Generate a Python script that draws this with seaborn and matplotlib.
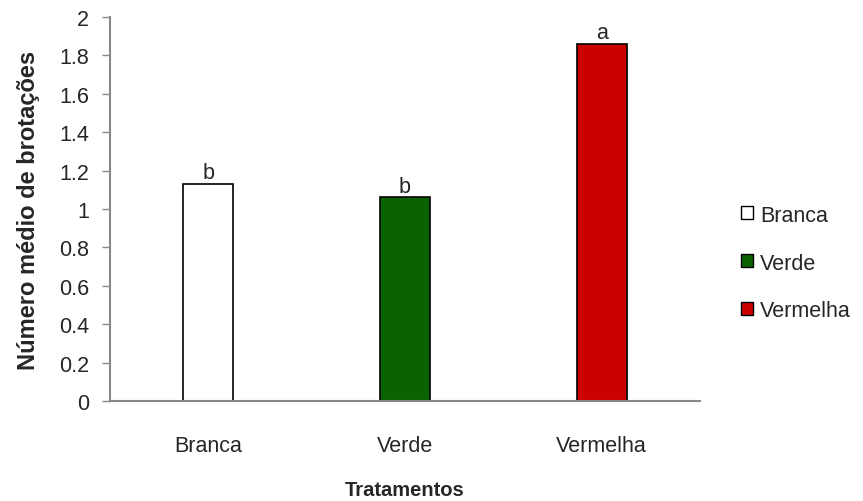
import seaborn as sns
import matplotlib.pyplot as plt
import pandas as pd

sns.set_theme(style="white")
plt.rcParams['font.family'] = ['Liberation Sans', 'DejaVu Sans']

# data
tratamentos = ["Branca", "Verde", "Vermelha"]
brotacoes = [1.13, 1.06, 1.86]
letras = ["b", "b", "a"]
cores = ["#FFFFFF", "#0A6302", "#CC0000"]

df = pd.DataFrame({"Tratamento": tratamentos, "Brotacoes": brotacoes})

fig = plt.figure(figsize=(8.63, 5.02), dpi=100)
ax = fig.add_axes([110 / 863, 1 - 402 / 502, 590 / 863, 384 / 502])

sns.barplot(data=df, x="Tratamento", y="Brotacoes", hue="Tratamento",
            palette=cores, dodge=False, width=0.255, edgecolor="black",
            linewidth=1.2, saturation=1, legend=False, ax=ax)

for i, (v, l) in enumerate(zip(brotacoes, letras)):
    ax.text(i, v + 0.005, l, ha="center", va="bottom", fontsize=15.5)

ax.set_ylim(0, 2)
ax.set_xlim(-0.5, 2.5)
ax.set_yticks([i / 5 for i in range(11)])
ax.set_yticklabels(["0", "0.2", "0.4", "0.6", "0.8", "1", "1.2", "1.4", "1.6", "1.8", "2"])
ax.tick_params(axis="y", left=True, length=6, width=1, color="#888888",
               labelsize=15.5, pad=9)
ax.tick_params(axis="x", bottom=False, labelsize=15.5, pad=18.5)
for s in ["top", "right"]:
    ax.spines[s].set_visible(False)
for s in ["left", "bottom"]:
    ax.spines[s].set_color("#888888")
    ax.spines[s].set_linewidth(1.5)

ax.set_xlabel("Tratamentos", fontsize=14.5, fontweight="bold", labelpad=17)
ax.set_ylabel("Número médio de brotações", fontsize=17, fontweight="bold", labelpad=14)

handles = [plt.Rectangle((0, 0), 1, 1, facecolor=c, edgecolor="black", linewidth=1)
           for c in cores]
fig.legend(handles, tratamentos, loc="center left", bbox_to_anchor=(741 / 863, 1 - 264 / 502),
           frameon=False, fontsize=15.5, handlelength=0.55, handleheight=0.55,
           handletextpad=0.35, labelspacing=1.25, borderpad=0, borderaxespad=0)

fig.savefig("out.png", dpi=100)
